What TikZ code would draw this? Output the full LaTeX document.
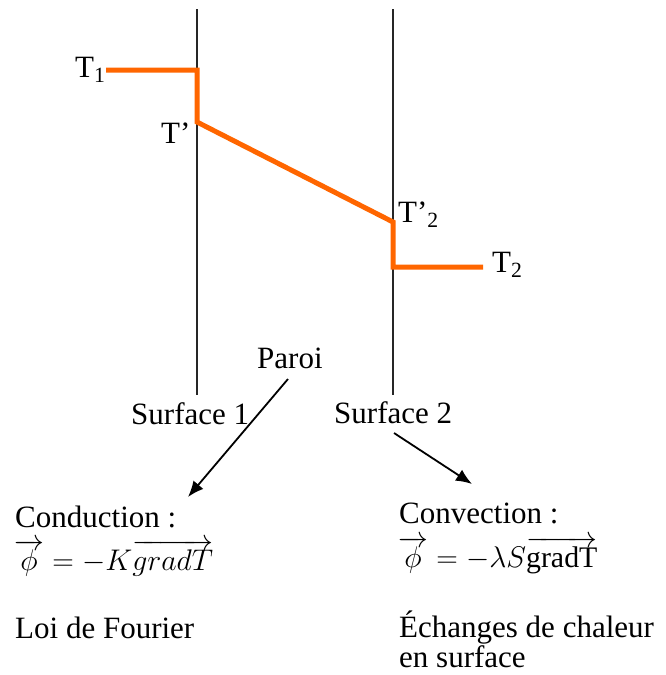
\documentclass[tikz,border=0pt]{standalone}
\usepackage{fontspec}
\setmainfont{Liberation Serif}
\usetikzlibrary{arrows.meta}
\newcommand{\bigformula}[1]{\scalebox{1.2}{$#1$}}
\begin{document}
\begin{tikzpicture}[x=1pt,y=-1pt,
  lbl/.style={font=\fontsize{31}{33}\selectfont, inner sep=0pt, anchor=base west},
  frm/.style={font=\fontsize{24.88}{27}\selectfont, inner sep=0pt, anchor=base west},
  wall/.style={line width=1.6pt, black!85},
  temp/.style={line width=5pt, color={rgb,255:red,255;green,102;blue,0}},
  arr/.style={line width=1.8pt, -{Latex[length=16pt,width=13pt]}}]
\useasboundingbox (0,0) rectangle (666,675);
% walls
\coordinate (w1t) at (197,9);
\coordinate (w1b) at (197,395);
\coordinate (w2t) at (393,9);
\coordinate (w2b) at (393,395);
\draw[wall] (w1t) -- (w1b);
\draw[wall] (w2t) -- (w2b);
% temperature profile
\coordinate (p1) at (106,70);
\coordinate (p2) at (197,70);
\coordinate (p3) at (197,122);
\coordinate (p4) at (393,222);
\coordinate (p5) at (393,267);
\coordinate (p6) at (483,267);
\draw[temp, line join=miter] (p1) -- (p2) -- (p3) -- (p4) -- (p5) -- (p6);
% temperature labels
\node[lbl] (t1) at (75,77) {T\textsubscript{1}};
\node[lbl] (tp) at (161,143) {T’};
\node[lbl] (tp2) at (398,222) {T’\textsubscript{2}};
\node[lbl] (t2) at (492,272) {T\textsubscript{2}};
% labels
\node[lbl] (paroi) at (257,368) {Paroi};
\node[lbl] (s1) at (131,424) {Surface 1};
\node[lbl] (s2) at (334,423) {Surface 2};
\node[lbl] (cond) at (15,527) {Conduction :};
\node[frm] (f1) at (14,570) {\bigformula{\overrightarrow{\phi}=-K\overrightarrow{grad T}}};
\node[lbl] (fourier) at (15,638) {Loi de Fourier};
\node[lbl] (conv) at (399,523) {Convection :};
\node[frm] (f2) at (398,567) {\bigformula{\overrightarrow{\phi}=-\lambda S\overrightarrow{\mathrm{gradT}}}};
\node[lbl] (ech) at (399,637) {Échanges de chaleur};
\node[lbl] (ensurf) at (399,667) {en surface};
% arrows
\coordinate (a1s) at (288,379);
\coordinate (a1e) at (188,497);
\coordinate (a2s) at (394,433);
\coordinate (a2e) at (472,484);
\draw[arr] (a1s) -- (a1e);
\draw[arr] (a2s) -- (a2e);
\end{tikzpicture}
\end{document}
